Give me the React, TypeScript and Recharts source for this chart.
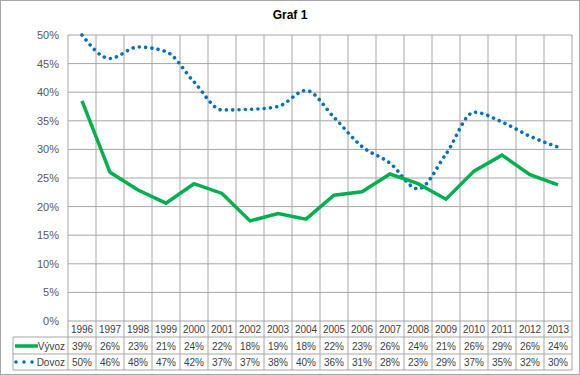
import { CartesianGrid, ComposedChart, Line, XAxis, YAxis } from "recharts";

const years = [
  "1996", "1997", "1998", "1999", "2000", "2001", "2002", "2003", "2004",
  "2005", "2006", "2007", "2008", "2009", "2010", "2011", "2012", "2013",
];
const vyvoz = [38.5, 26.0, 22.9, 20.6, 24.0, 22.3, 17.5, 18.8, 17.8, 22.0, 22.6, 25.7, 24.0, 21.3, 26.2, 29.0, 25.6, 23.8];
const dovoz = [50.0, 45.9, 47.9, 47.1, 41.8, 36.9, 37.0, 37.5, 40.3, 35.6, 30.5, 27.6, 23.1, 29.2, 36.5, 34.8, 32.3, 30.4];
const yTicks = [0, 5, 10, 15, 20, 25, 30, 35, 40, 45, 50];

const data = years.map((year, i) => ({ year, vyvoz: vyvoz[i], dovoz: dovoz[i] }));

const W = 578;
const H = 373;
const MARGIN = { top: 34, right: 7, bottom: 0, left: 0 };
const Y_AXIS_W = 67;
const X_AXIS_H = 53;
const COL = (W - MARGIN.right - Y_AXIS_W) / years.length;
const ROWS = [16, 33, 49];
const LEGEND_LEFT = 12;
const GRID = "#a6a6a6";
const TEXT = "#404040";
const GREEN = "#00b050";
const BLUE = "#0070c0";
const FONT = "'Liberation Sans', Arial, sans-serif";

const pct = (v: number) => `${Math.round(v)}%`;

// each x tick draws its own column of the data table under the plot
function TableTick(props: any) {
  const { x, y, payload, index } = props;
  const l = x - COL / 2;
  const r = x + COL / 2;
  const txt = { fontSize: 10, fill: TEXT, textAnchor: "middle" as const, fontFamily: FONT };
  return (
    <g>
      <line x1={r} y1={y} x2={r} y2={y + ROWS[2]} stroke={GRID} />
      {ROWS.map((dy) => (
        <line key={dy} x1={l} x2={r} y1={y + dy} y2={y + dy} stroke={GRID} />
      ))}
      <text x={x} y={y + 12} {...txt}>{payload.value}</text>
      <text x={x} y={y + 29} {...txt}>{pct(vyvoz[index])}</text>
      <text x={x} y={y + 45} {...txt}>{pct(dovoz[index])}</text>
      {index === 0 && (
        <g>
          <line x1={l} x2={l} y1={y} y2={y + ROWS[2]} stroke={GRID} />
          <line x1={LEGEND_LEFT} x2={LEGEND_LEFT} y1={y + ROWS[0]} y2={y + ROWS[2]} stroke={GRID} />
          {ROWS.map((dy) => (
            <line key={dy} x1={LEGEND_LEFT} x2={l} y1={y + dy} y2={y + dy} stroke={GRID} />
          ))}
          <line x1={14} x2={37} y1={y + 25} y2={y + 25} stroke={GREEN} strokeWidth={3.5} />
          {[15, 23, 31].map((cx) => (
            <circle key={cx} cx={cx} cy={y + 41} r={1.8} fill={BLUE} />
          ))}
          <text x={64} y={y + 29} {...txt} textAnchor="end">Vývoz</text>
          <text x={64} y={y + 45} {...txt} textAnchor="end">Dovoz</text>
        </g>
      )}
    </g>
  );
}

export default function App() {
  return (
    <div
      style={{
        position: "absolute",
        left: 0,
        top: 0,
        width: W + 2,
        height: H + 2,
        boxSizing: "border-box",
        border: "1px solid #a6a6a6",
        background: "#fff",
        fontFamily: FONT,
      }}
    >
      <div
        style={{
          position: "absolute",
          left: 0,
          width: W,
          top: 7,
          textAlign: "center",
          fontWeight: "bold",
          fontSize: 12,
          color: "#000",
        }}
      >
        Graf 1
      </div>
      <ComposedChart width={W} height={H} data={data} margin={MARGIN}>
        <CartesianGrid
          stroke={GRID}
          verticalCoordinatesGenerator={({ offset }: any) =>
            Array.from({ length: years.length + 1 }, (_, k) => offset.left + (k * offset.width) / years.length)
          }
        />
        <XAxis
          dataKey="year"
          height={X_AXIS_H}
          padding={{ left: COL / 2, right: COL / 2 }}
          axisLine={false}
          tickLine={false}
          tickSize={0}
          tickMargin={0}
          interval={0}
          tick={<TableTick />}
        />
        <YAxis
          domain={[0, 50]}
          ticks={yTicks}
          tickFormatter={(v: number) => `${v}%`}
          width={Y_AXIS_W}
          axisLine={false}
          tickLine={false}
          tickSize={0}
          tickMargin={9}
          tick={{ fontSize: 11, fill: "#595959", fontFamily: FONT }}
        />
        <Line
          dataKey="dovoz"
          type="monotone"
          stroke={BLUE}
          strokeWidth={3.6}
          strokeLinecap="round"
          strokeDasharray="0.01 6.3"
          dot={false}
          isAnimationActive={false}
        />
        <Line
          dataKey="vyvoz"
          type="linear"
          stroke={GREEN}
          strokeWidth={3.5}
          dot={false}
          isAnimationActive={false}
        />
      </ComposedChart>
    </div>
  );
}
